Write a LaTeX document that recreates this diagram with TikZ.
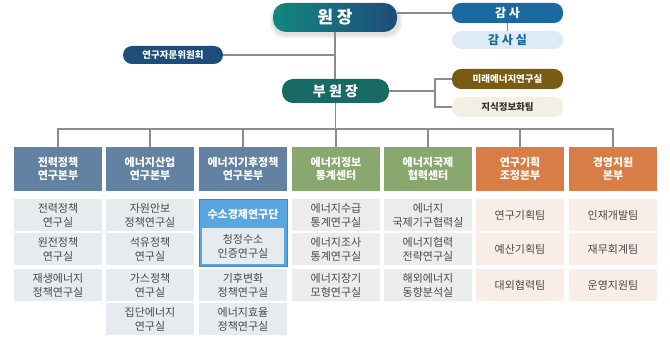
\documentclass[tikz,border=0pt]{standalone}
\usepackage{fontspec}
\setmainfont{Noto Sans CJK KR}
\definecolor{line}{HTML}{8C8C8C}
\definecolor{wonL}{HTML}{12877F}
\definecolor{wonR}{HTML}{1F4C7A}
\definecolor{buwonC}{HTML}{186B64}
\definecolor{gamsaC}{HTML}{1B69A0}
\definecolor{gamsasilC}{HTML}{DEEAF4}
\definecolor{commC}{HTML}{1F4D7B}
\definecolor{miraeC}{HTML}{7A5B14}
\definecolor{jisikC}{HTML}{F3EFE2}
\definecolor{hblue}{HTML}{6382A2}
\definecolor{hgreen}{HTML}{88A86F}
\definecolor{horange}{HTML}{D97D47}
\definecolor{sblue}{HTML}{E6EBF0}
\definecolor{sgreen}{HTML}{ECEDEA}
\definecolor{sorange}{HTML}{F9EEE7}
\definecolor{subtxt}{HTML}{4A4A4A}
\definecolor{h2blue}{HTML}{5AA6E0}
\begin{document}
\begin{tikzpicture}[x=1pt,y=-1pt,
  conn/.style={draw=line, line width=1.3pt},
  pill/.style={rounded corners=9pt, inner sep=0, align=center},
  hdr/.style={minimum width=88pt, minimum height=44pt, inner sep=0, align=center, text=white, font=\bfseries\fontsize{11}{13.5}\selectfont},
  subbox/.style={minimum width=88pt, minimum height=32pt, inner sep=0, align=center, text=subtxt, font=\fontsize{11}{14}\selectfont}]
\useasboundingbox (0,0) rectangle (670,347);
% shadow of top box
\fill[black, opacity=0.06, rounded corners=14pt] (270,4) rectangle (402,38);
\fill[black, opacity=0.06, rounded corners=14pt] (272,5) rectangle (400,36);
% top nodes
\node[pill, rounded corners=13pt, left color=wonL, right color=wonR, minimum width=124pt, minimum height=29pt, text=white, font=\bfseries\fontsize{17}{17}\selectfont] (won) at (335,17.5) {원 장};
\node[pill, fill=gamsaC, minimum width=111pt, minimum height=20pt, text=white, font=\bfseries\fontsize{12}{12}\selectfont] (gamsa) at (507.5,13) {감 사};
\node[pill, fill=gamsasilC, minimum width=111pt, minimum height=18pt, text=gamsaC, font=\bfseries\fontsize{12}{12}\selectfont] (gamsasil) at (507.5,40) {감 사 실};
\node[pill, fill=commC, minimum width=100pt, minimum height=18pt, text=white, font=\bfseries\fontsize{9.5}{9.5}\selectfont] (comm) at (173,55) {연구자문위원회};
\node[pill, rounded corners=11pt, fill=buwonC, minimum width=107pt, minimum height=24pt, text=white, font=\bfseries\fontsize{14}{14}\selectfont] (buwon) at (335.5,91) {부 원 장};
\node[pill, fill=miraeC, minimum width=111pt, minimum height=20pt, text=white, font=\bfseries\fontsize{9.5}{9.5}\selectfont] (mirae) at (507.5,79) {미래에너지연구실};
\node[pill, fill=jisikC, minimum width=111pt, minimum height=20pt, text=black!80, font=\bfseries\fontsize{9.5}{9.5}\selectfont] (jisik) at (507.5,107) {지식정보화팀};
% headers
\node[hdr, fill=hblue] (h1) at (58,169) {전력정책\\연구본부};
\node[hdr, fill=hblue] (h2) at (150,169) {에너지산업\\연구본부};
\node[hdr, fill=hblue] (h3) at (243,169) {에너지기후정책\\연구본부};
\node[hdr, fill=hgreen] (h4) at (336,169) {에너지정보\\통계센터};
\node[hdr, fill=hgreen] (h5) at (428,169) {에너지국제\\협력센터};
\node[hdr, fill=horange] (h6) at (520,169) {연구기획\\조정본부};
\node[hdr, fill=horange] (h7) at (613,169) {경영지원\\본부};
% connectors top
\draw[conn] (won.east |- gamsa.west) -- (gamsa.west);
\draw[conn] (gamsa.south) -- (gamsasil.north);
\draw[conn] (comm.east) -- (won.south |- comm.east);
\draw[conn] (won.south) -- (won.south |- buwon.north);
\coordinate (vb) at (435,91);
\draw[conn] (buwon.east) -- (vb);
\draw[conn] (mirae.west) -| (vb) |- (jisik.west);
\coordinate (bus) at (336,129);
\draw[conn] (buwon.south) -- (buwon.south |- bus);
\draw[conn] (h1.north) |- (bus) -| (h7.north);
\foreach \h in {h2,h3,h4,h5,h6} \draw[conn] (\h.north) -- (\h.north |- bus);
% column 1
\node[subbox, fill=sblue] (c1a) at (58,215) {전력정책\\연구실};
\node[subbox, fill=sblue] (c1b) at (58,249.5) {원전정책\\연구실};
\node[subbox, fill=sblue] (c1c) at (58,285.5) {재생에너지\\정책연구실};
% column 2
\node[subbox, fill=sblue] (c2a) at (150,215) {자원안보\\정책연구실};
\node[subbox, fill=sblue] (c2b) at (150,249.5) {석유정책\\연구실};
\node[subbox, fill=sblue] (c2c) at (150,285.5) {가스정책\\연구실};
\node[subbox, fill=sblue] (c2d) at (150,319.5) {집단에너지\\연구실};
% column 3
\node[fill=h2blue, draw=h2blue!80!black, line width=0.4pt, minimum width=88pt, minimum height=67pt, inner sep=0] (c3grp) at (243,232.5) {};
\node[text=white, font=\bfseries\fontsize{11}{11}\selectfont, inner sep=0] (c3t) at (243,214) {수소경제연구단};
\node[subbox, fill=sblue, minimum width=82pt, minimum height=36pt] (c3a) at (243,246) {청정수소\\인증연구실};
\node[subbox, fill=sblue] (c3b) at (243,285.5) {기후변화\\정책연구실};
\node[subbox, fill=sblue] (c3c) at (243,319.5) {에너지효율\\정책연구실};
% column 4
\node[subbox, fill=sgreen] (c4a) at (336,215) {에너지수급\\통계연구실};
\node[subbox, fill=sgreen] (c4b) at (336,249.5) {에너지조사\\통계연구실};
\node[subbox, fill=sgreen] (c4c) at (336,285.5) {에너지장기\\모형연구실};
% column 5
\node[subbox, fill=sgreen] (c5a) at (428,215) {에너지\\국제기구협력실};
\node[subbox, fill=sgreen] (c5b) at (428,249.5) {에너지협력\\전략연구실};
\node[subbox, fill=sgreen] (c5c) at (428,285.5) {해외에너지\\동향분석실};
% column 6
\node[subbox, fill=sorange] (c6a) at (520,215) {연구기획팀};
\node[subbox, fill=sorange] (c6b) at (520,249.5) {예산기획팀};
\node[subbox, fill=sorange] (c6c) at (520,285.5) {대외협력팀};
% column 7
\node[subbox, fill=sorange] (c7a) at (613,215) {인재개발팀};
\node[subbox, fill=sorange] (c7b) at (613,249.5) {재무회계팀};
\node[subbox, fill=sorange] (c7c) at (613,285.5) {운영지원팀};
\end{tikzpicture}
\end{document}
